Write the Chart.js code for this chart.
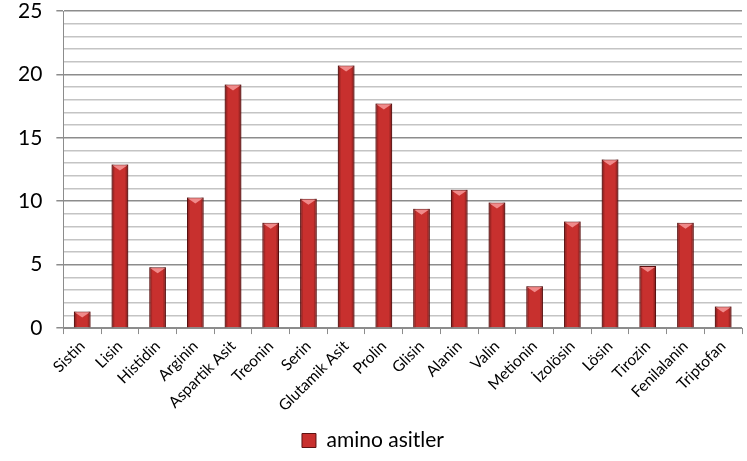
<!DOCTYPE html>
<html>
<head>
<meta charset="utf-8">
<script src="https://cdn.jsdelivr.net/npm/chart.js@4/dist/chart.umd.min.js"></script>
<style>
  body { margin: 0; background: #fff; }
  #wrap { width: 747px; height: 461px; }
</style>
</head>
<body>
<div id="wrap"><canvas id="chart" width="747" height="461"></canvas></div>
<script>
const categories = ["Sistin", "Lisin", "Histidin", "Arginin", "Aspartik Asit", "Treonin", "Serin",
    "Glutamik Asit", "Prolin", "Glisin", "Alanin", "Valin", "Metionin", "İzolösin", "Lösin",
    "Tirozin", "Fenilalanin", "Triptofan"];
const aminoValues = [1.3, 12.9, 4.8, 10.3, 19.2, 8.3, 10.2, 20.7, 17.7, 9.4, 10.9, 9.9, 3.3, 8.4, 13.3, 4.9, 8.3, 1.7];
const seriesName = "amino asitler";
const yMax = 25;
const yLabelStep = 5;

const fontFamily = "Lato, 'Noto Sans', sans-serif";

// draws the little lighter triangle on top of each bar (the bevel look)
const bevelPlugin = {
    id: 'bevel',
    afterDatasetsDraw(chart) {
        const ctx = chart.ctx;
        chart.getDatasetMeta(0).data.forEach(function (bar) {
            const half = bar.width / 2;
            ctx.save();
            const g = ctx.createLinearGradient(bar.x - half, 0, bar.x + half, 0);
            g.addColorStop(0, 'rgba(90,10,10,0.55)');
            g.addColorStop(0.2, 'rgba(0,0,0,0)');
            g.addColorStop(0.8, 'rgba(0,0,0,0)');
            g.addColorStop(1, 'rgba(90,10,10,0.55)');
            ctx.fillStyle = g;
            ctx.fillRect(bar.x - half, bar.y, bar.width, bar.base - bar.y);
            ctx.beginPath();
            ctx.moveTo(bar.x - half + 1, bar.y + 1);
            ctx.lineTo(bar.x + half - 1, bar.y + 1);
            ctx.lineTo(bar.x, bar.y + 6);
            ctx.closePath();
            ctx.fillStyle = '#f08a8a';
            ctx.fill();
            ctx.restore();
        });
    }
};

const config = {
    type: 'bar',
    data: {
        labels: categories,
        datasets: [{
            label: seriesName,
            data: aminoValues,
            backgroundColor: '#c8302e',
            borderColor: '#5e1212',
            borderWidth: 1,
            barPercentage: 0.88,
            categoryPercentage: 0.5
        }]
    },
    options: {
        responsive: false,
        animation: false,
        layout: { padding: { top: 0, right: 5, left: 4, bottom: 0 } },
        plugins: {
            tooltip: { enabled: false },
            legend: {
                position: 'bottom',
                labels: {
                    color: '#000',
                    font: { family: fontFamily, size: 21 },
                    boxWidth: 14,
                    boxHeight: 14,
                    padding: 12
                }
            }
        },
        scales: {
            x: {
                grid: {
                    drawOnChartArea: false,
                    color: '#8c8c8c',
                    tickLength: 6
                },
                border: { color: '#8c8c8c' },
                ticks: {
                    color: '#000',
                    font: { family: fontFamily, size: 15.5 },
                    minRotation: 45,
                    maxRotation: 45,
                    autoSkip: false,
                    padding: 3
                }
            },
            y: {
                min: 0,
                max: yMax,
                // keep the top gridline close to the canvas edge like the original
                afterFit: function (scale) { scale.paddingTop = 11; },
                grid: {
                    color: function (c) { return c.tick.value % yLabelStep === 0 ? '#8c8c8c' : '#c4c4c4'; },
                    tickColor: function (c) { return c.tick.value % yLabelStep === 0 ? '#8c8c8c' : 'rgba(0,0,0,0)'; },
                    lineWidth: 1.5,
                    tickLength: 7
                },
                border: { color: '#8c8c8c' },
                ticks: {
                    stepSize: 1,
                    autoSkip: false,
                    color: '#000',
                    font: { family: fontFamily, size: 21 },
                    padding: 14,
                    callback: function (v) { return v % yLabelStep === 0 ? v : ''; }
                }
            }
        }
    },
    plugins: [bevelPlugin]
};

const barChart = new Chart(document.getElementById('chart'), config);
</script>
</body>
</html>
